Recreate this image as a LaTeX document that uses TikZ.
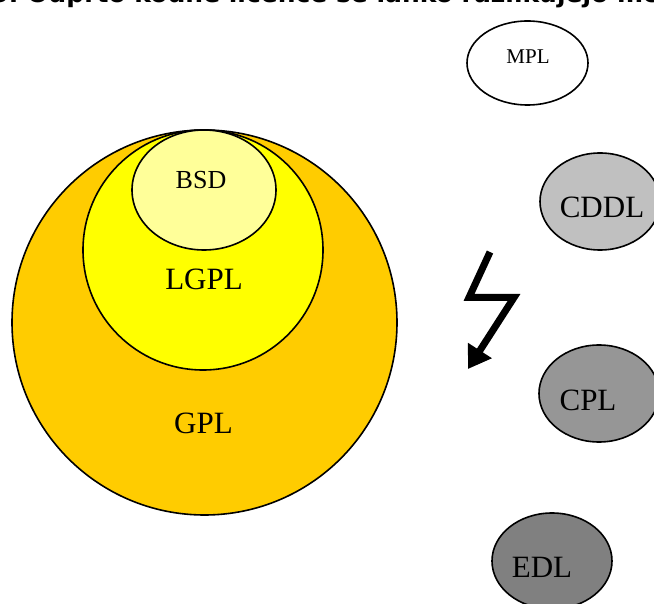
\documentclass[tikz,border=0pt]{standalone}
\usepackage{fontspec}
\setmainfont{Liberation Serif}
\newfontfamily\capfont{DejaVu Sans}
\usetikzlibrary{arrows.meta, shapes.geometric, positioning}
\definecolor{gplcol}{HTML}{FFCC00}
\definecolor{lgplcol}{HTML}{FFFF00}
\definecolor{bsdcol}{HTML}{FFFF99}
\definecolor{cddlcol}{HTML}{C0C0C0}
\definecolor{cplcol}{HTML}{969696}
\definecolor{edlcol}{HTML}{808080}

\begin{document}
\begin{tikzpicture}[
  x=1pt, y=-1pt,
  lic/.style={draw, ellipse, line width=1.6pt, inner sep=0pt},
  lname/.style={inner sep=0pt, font=\fontsize{31}{31}\selectfont},
  bolt/.style={draw, line width=7pt, -{Triangle[length=22pt,width=27pt]}}
  ]
  \useasboundingbox (0,0) rectangle (654,604);
  % caption, cut off by the top edge
  \node[anchor=base west, inner sep=0pt, font=\capfont\bfseries\fontsize{25}{25}\selectfont] (caption) at (27,3)
    {\llap{Slika 3:\ }Odprto kodne licence se lahko razlikujejo med};

  % nested licences
  \node[lic, fill=gplcol, minimum width=385pt, minimum height=385pt] (gpl) at (204.5,322.5) {};
  \node[lic, fill=lgplcol, minimum width=240pt, minimum height=240pt] (lgpl) at (203,250) {};
  \node[lic, fill=bsdcol, minimum width=144pt, minimum height=120pt] (bsd) at (204,190) {};
  \node[lname] (gpl-t) at (203.5,423.5) {GPL};
  \node[lname] (lgpl-t) at (204,279) {LGPL};
  \node[lname, font=\fontsize{26}{26}\selectfont] (bsd-t) at (201,180.5) {BSD};

  % other licences
  \node[lic, fill=white, minimum width=121pt, minimum height=84pt] (mpl) at (527.5,63) {};
  \node[lic, fill=cddlcol, minimum width=120pt, minimum height=97pt] (cddl) at (600,201.5) {};
  \node[lic, fill=cplcol, minimum width=120pt, minimum height=97pt] (cpl) at (599,393.5) {};
  \node[lic, fill=edlcol, minimum width=120pt, minimum height=96pt] (edl) at (552,561) {};
  \node[lname, font=\fontsize{21}{21}\selectfont] (mpl-t) at (528,57) {MPL};
  \node[lname] (cddl-t) at (602,207) {CDDL};
  \node[lname] (cpl-t) at (588,400) {CPL};
  \node[lname] (edl-t) at (542,567) {EDL};

  % lightning
  \coordinate (b1) at (490,252);
  \coordinate (b2) at (469,297.5);
  \coordinate (b3) at (514,297.5);
  \coordinate (b4) at (468,369);
  \draw[bolt] (b1) -- (b2) -- (b3) -- (b4);
\end{tikzpicture}
\end{document}
